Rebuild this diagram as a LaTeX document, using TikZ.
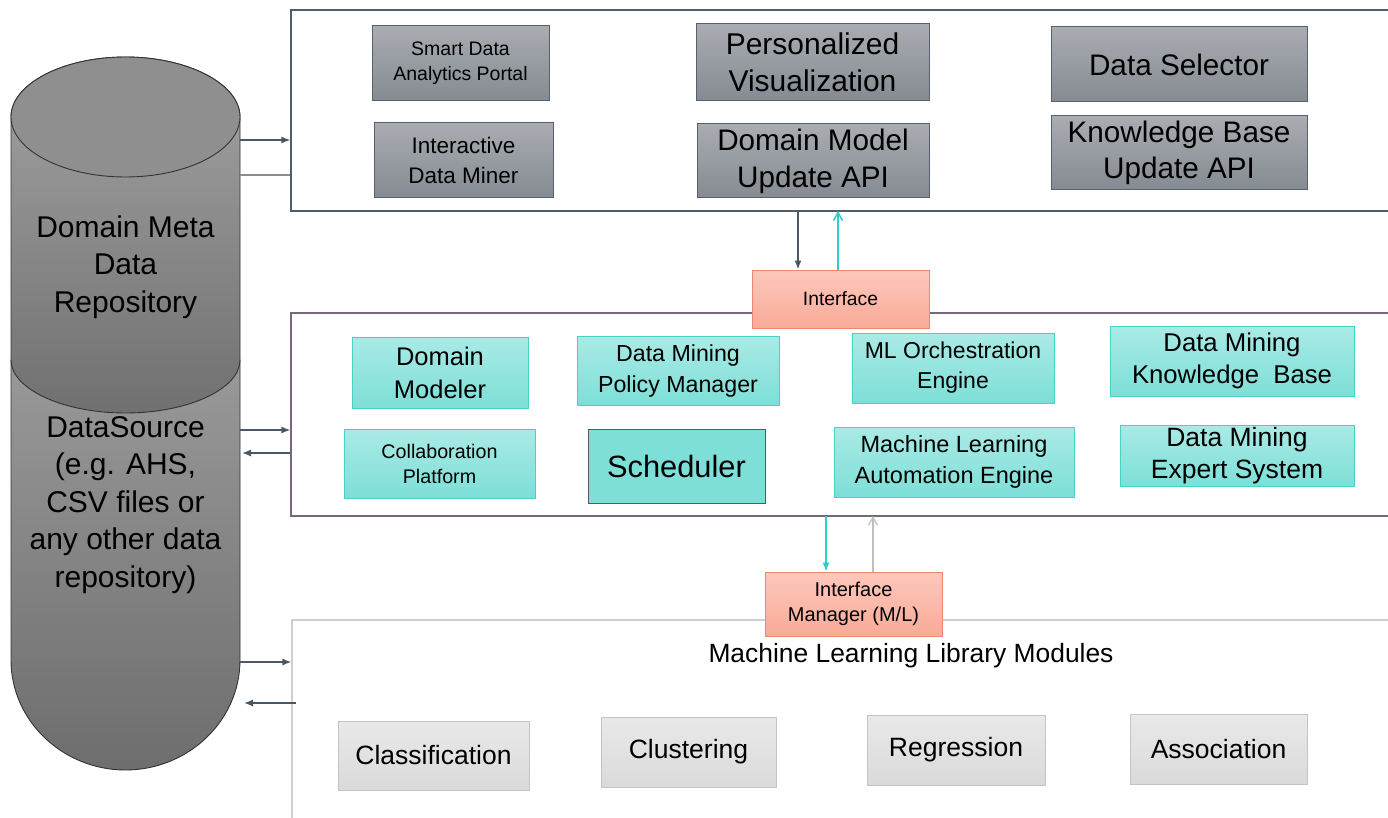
\documentclass[tikz,border=0pt]{standalone}
\usepackage{fontspec}
\setmainfont{Liberation Sans}
\usetikzlibrary{arrows.meta}
\definecolor{gtop}{HTML}{A9ACB1}
\definecolor{gbot}{HTML}{858B93}
\definecolor{gborder}{HTML}{56616C}
\definecolor{ttop}{HTML}{AAEAE5}
\definecolor{tbot}{HTML}{7DDFD8}
\definecolor{tborder}{HTML}{45D3C8}
\definecolor{stop}{HTML}{FDC8BB}
\definecolor{sbot}{HTML}{F9AA98}
\definecolor{sborder}{HTML}{F08570}
\definecolor{ltop}{HTML}{E9E9E9}
\definecolor{lbot}{HTML}{DADADA}
\definecolor{lborder}{HTML}{C4C4C4}
\definecolor{darrow}{HTML}{4A5866}
\definecolor{tealarrow}{HTML}{2CCFC2}
\definecolor{p1}{HTML}{4F5D6B}
\definecolor{p2}{HTML}{76687A}
\definecolor{p3}{HTML}{CFCFCF}
\newcommand{\myfs}[2]{\fontsize{#1}{#2}\selectfont}
\tikzset{
  boxbase/.style={line width=1pt, inner sep=0pt, align=center, text=black},
  gbox/.style={boxbase, draw=gborder, top color=gtop, bottom color=gbot},
  tbox/.style={boxbase, draw=tborder, top color=ttop, bottom color=tbot},
  sbox/.style={boxbase, draw=sborder, top color=stop, bottom color=sbot},
  lbox/.style={boxbase, draw=lborder, top color=ltop, bottom color=lbot, font=\myfs{26.5}{32}},
  panel/.style={rectangle, fill=white, line width=1.2pt, inner sep=0pt},
  darr/.style={draw=darrow, line width=1.3pt, -{Latex[length=9pt,width=7pt]}},
  tarr/.style={draw=tealarrow, line width=1.5pt},
  wh/.style={minimum width=#1},
  ht/.style={minimum height=#1},
}
\begin{document}
\begin{tikzpicture}[x=1pt,y=-1pt]
\useasboundingbox (0,0) rectangle (1388,818);

% cylinder: lower part (DataSource)
\path[draw=black!80, line width=0.9pt, top color=black!40, bottom color=black!57]
  (11,360) -- (11,660) .. controls (11,721) and (63,770) .. (125.5,770)
  .. controls (188,770) and (240,721) .. (240,660) -- (240,360) -- cycle;
% cylinder: upper part (Domain Meta Data Repository)
\path[draw=black!80, line width=0.9pt, top color=black!36, bottom color=black!56]
  (11,117) -- (11,360) .. controls (11,389) and (63,413) .. (125.5,413)
  .. controls (188,413) and (240,389) .. (240,360) -- (240,117)
  .. controls (240,84) and (188,57) .. (125.5,57)
  .. controls (63,57) and (11,84) .. (11,117) -- cycle;
\path[draw=black!80, line width=0.9pt, fill=black!44]
  (11,117) .. controls (11,84) and (63,57) .. (125.5,57)
  .. controls (188,57) and (240,84) .. (240,117)
  .. controls (240,150) and (188,177) .. (125.5,177)
  .. controls (63,177) and (11,150) .. (11,117) -- cycle;
\node[align=center, font=\myfs{30}{37.5}] (dmdr) at (125.5,267) {Domain Meta\\Data\\Repository};
\node[align=center, font=\myfs{30}{37.5}] (dsrc) at (125.5,505) {DataSource\\(e.g. AHS,\\CSV files or\\any other data\\repository)};

% panels
\node[panel, draw=p1, minimum width=1101pt, minimum height=201pt] (top) at (841.5,110.5) {};
\node[panel, draw=p2, minimum width=1101pt, minimum height=203pt] (mid) at (841.5,414.5) {};
\node[panel, draw=p3, minimum width=1100pt, minimum height=210pt] (bot) at (842,725) {};

% top panel boxes
\node[gbox, wh=177pt, ht=75pt, font=\myfs{19.5}{25}] (smart) at (460.5,63.5) {Smart Data\\Analytics Portal};
\node[gbox, wh=179pt, ht=75pt, font=\myfs{22.5}{30}] (miner) at (463.5,160.5) {Interactive\\Data Miner};
\node[gbox, wh=233pt, ht=77pt, font=\myfs{30}{37}] (pers) at (812.5,62.5) {Personalized\\Visualization};
\node[gbox, wh=232pt, ht=74pt, font=\myfs{29.7}{37}] (dmapi) at (813,161) {Domain Model\\Update API};
\node[gbox, wh=256pt, ht=75pt, font=\myfs{29.7}{36}] (dsel) at (1179,64.5) {Data Selector};
\node[gbox, wh=256pt, ht=74pt, font=\myfs{29.7}{36}] (kbapi) at (1179,153) {Knowledge Base\\Update API};

% middle panel boxes
\node[tbox, wh=176pt, ht=71pt, font=\myfs{25.5}{33}] (dmod) at (440,372.5) {Domain\\Modeler};
\node[tbox, wh=202pt, ht=69pt, font=\myfs{23.2}{31}] (dmpm) at (678,370.5) {Data Mining\\Policy Manager};
\node[tbox, wh=202pt, ht=70pt, font=\myfs{23}{30}] (mlo) at (953,368) {ML Orchestration\\Engine};
\node[tbox, wh=244pt, ht=70pt, font=\myfs{25.7}{32}] (dmkb) at (1232,361) {Data Mining\\Knowledge~~Base};
\node[tbox, wh=191pt, ht=69pt, font=\myfs{19.7}{25}] (collab) at (439.5,463.5) {Collaboration\\Platform};
\node[boxbase, draw=black!65, fill=tbot, wh=177pt, ht=74pt, font=\myfs{30.8}{36}] (sched) at (676.5,466) {Scheduler};
\node[tbox, wh=240pt, ht=70pt, font=\myfs{23.5}{31}] (mlae) at (954,462) {Machine Learning\\Automation Engine};
\node[tbox, wh=234pt, ht=61pt, font=\myfs{26.5}{32}] (dmes) at (1237,455.5) {Data Mining\\Expert System};

% interfaces
\node[sbox, wh=177pt, ht=58pt, font=\myfs{19.3}{25}] (iface) at (840.5,299) {Interface};
\node[sbox, wh=177pt, ht=64pt, font=\myfs{20}{25}] (iman) at (853.5,604) {Interface\\Manager (M/L)};

% bottom panel
\node[font=\myfs{26.4}{30}] (mllm) at (911,656) {Machine Learning Library Modules};
\node[lbox, wh=191pt, ht=69pt] (cls) at (433.5,755.5) {Classification};
\node[lbox, wh=175pt, ht=70pt] (clu) at (688.5,752) {Clustering};
\node[lbox, wh=178pt, ht=70pt] (reg) at (956,750) {Regression};
\node[lbox, wh=177pt, ht=70pt] (asc) at (1218.5,749) {Association};

% connectors cylinder <-> panels
\coordinate (c1) at (240,140);
\coordinate (c2) at (240,175);
\coordinate (c3) at (240,430);
\coordinate (c4) at (242,453);
\coordinate (c5) at (240,662);
\coordinate (c6) at (244,703);
\draw[darr] (c1) -- (c1 -| top.west);
\draw[draw=black!45, line width=1.3pt] (c2) -- (c2 -| top.west);
\draw[darr] (c3) -- (c3 -| mid.west);
\draw[darr] (c4 -| mid.west) -- (c4);
\draw[darr] (c5) -- (c5 -| bot.west);
\draw[darr] ([xshift=5pt]c6 -| bot.west) -- (c6);

% connectors panels <-> interfaces
\coordinate (i1) at (798,211);
\coordinate (i2) at (838,211);
\coordinate (m1) at (826,516);
\coordinate (m2) at (873,516);
\draw[darr] (i1) -- (i1 |- iface.north);
\draw[tarr, -{Straight Barb[length=8pt,width=9pt]}] (i2 |- iface.north) -- (i2);
\draw[tarr, line width=1.3pt, -{Latex[length=9pt,width=7pt]}] (m1) -- (m1 |- iman.north);
\draw[draw=black!25, line width=1.2pt, -{Straight Barb[length=8pt,width=9pt]}] (m2 |- iman.north) -- (m2);
\end{tikzpicture}
\end{document}
